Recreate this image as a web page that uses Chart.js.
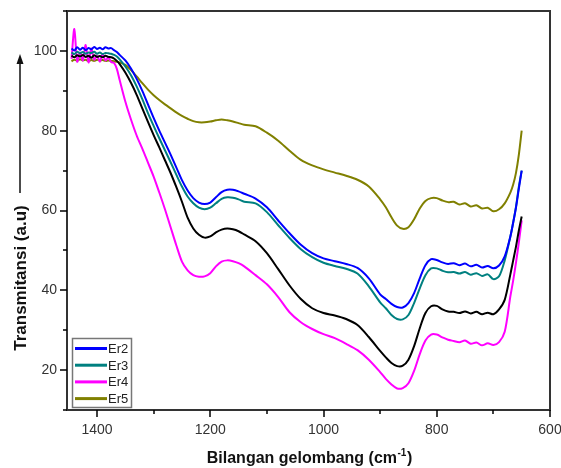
<!DOCTYPE html>
<html>
<head>
<meta charset="utf-8">
<script src="https://cdn.jsdelivr.net/npm/chart.js@4.4.1/dist/chart.umd.min.js"></script>
<style>
  html, body { margin: 0; padding: 0; background: #fff; }
</style>
</head>
<body>
<canvas id="myChart" width="561" height="468"></canvas>
<script>
// wavenumber grid (cm-1), shared by all spectra
let wavenumber = [
	1445, 1440, 1435, 1430, 1425, 1420, 1415, 1410, 1405, 1400, 1395, 1390, 1385, 1380, 1375, 1370, 1365,
	1360, 1350, 1340, 1330, 1320, 1310, 1300, 1290, 1280, 1270, 1260, 1250, 1240, 1230, 1220, 1210, 1200, 1190, 1180, 1170, 1160, 1150, 1140,
	1120, 1100, 1080, 1060, 1040, 1020, 1000, 980, 960, 940,
	920, 900,
	890, 880, 870, 860, 850, 840, 830, 820, 810, 800, 790, 780, 770,
	760, 750, 740, 730, 720, 710, 700, 690, 680,
	670, 665, 660, 655, 650,
]

let er1 = [
	98.8, 98.4, 98.9, 98.6, 99.0, 98.5, 98.8, 98.3, 98.9, 98.5, 98.7, 98.4, 98.8, 98.5, 98.4, 98.1, 97.5,
	96.7, 94.6, 92.0, 89.0, 85.6, 82.2, 78.9, 75.8, 72.6, 69.4, 65.9, 62.2, 58.2, 55.5, 53.9, 53.2, 53.5, 54.5, 55.2, 55.5, 55.3, 54.8, 54.0,
	52.3, 49.3, 45.3, 41.2, 37.8, 35.5, 34.3, 33.7, 32.8, 31.3,
	28.3, 24.8,
	23.2, 21.8, 21.0, 21.1, 22.6, 26.0, 30.5, 34.3, 36.0, 36.1, 35.2, 34.7, 34.6,
	34.3, 34.7, 34.2, 34.6, 34.0, 34.4, 34.0, 35.2, 37.6,
	44.0, 47.5, 51.0, 55.0, 58.5,
]
let er2 = [
	100.6, 100.1, 100.9, 100.3, 100.8, 100.2, 100.7, 100.4, 101.0, 100.5, 100.8, 100.4, 100.9, 100.6, 100.7, 100.2, 99.7,
	99.0, 97.6, 95.6, 93.0, 90.0, 86.6, 83.2, 80.0, 77.0, 74.0, 70.8, 67.6, 65.0, 63.1, 62.0, 61.6, 62.0, 63.3, 64.6, 65.2, 65.2, 64.8, 64.2,
	63.0, 60.8, 57.5, 54.3, 51.4, 49.3, 48.0, 47.3, 46.6, 45.6,
	43.0, 39.0,
	37.8, 36.6, 35.8, 35.7, 36.8, 39.3, 43.0, 46.3, 47.8, 47.6, 47.0, 46.6, 46.8,
	46.3, 46.7, 46.0, 46.4, 45.7, 46.1, 45.5, 46.2, 48.5,
	53.5, 57.0, 60.8, 65.5, 70.0,
]
let er3 = [
	99.6, 99.2, 99.8, 99.4, 99.7, 99.3, 99.6, 99.5, 99.8, 99.3, 99.6, 99.2, 99.5, 99.4, 99.3, 99.0, 98.6,
	97.9, 96.1, 93.9, 91.1, 87.9, 84.4, 81.2, 78.1, 75.1, 72.1, 69.0, 66.0, 63.5, 61.8, 60.7, 60.3, 60.7, 61.8, 62.9, 63.3, 63.2, 62.8, 62.2,
	61.8, 59.6, 56.3, 53.1, 50.3, 48.3, 46.9, 46.1, 45.4, 44.2,
	41.0, 37.0,
	35.5, 33.8, 32.8, 32.7, 33.8, 36.8, 40.5, 43.8, 45.5, 45.5, 44.9, 44.5, 44.6,
	44.2, 44.6, 43.9, 44.3, 43.6, 44.0, 42.8, 43.5, 47.5,
	53.5, 57.0, 61.0, 66.0, 70.0,
]
let er4 = [
	98.0, 105.5, 97.3, 99.6, 97.6, 101.5, 97.1, 100.6, 97.8, 98.8, 97.3, 99.2, 97.6, 98.4, 97.2, 97.0, 95.5,
	92.7, 87.3, 82.8, 78.8, 75.5, 72.0, 68.5, 64.5, 60.3, 55.8, 51.3, 47.2, 45.0, 43.8, 43.4, 43.5, 44.3, 46.0, 47.2, 47.5, 47.3, 46.8, 46.0,
	43.8, 41.5, 38.3, 34.5, 32.0, 30.3, 29.0, 28.0, 26.6, 25.0,
	22.6, 19.5,
	17.8, 16.4, 15.4, 15.5, 16.7, 19.8, 24.0, 27.4, 28.9, 28.9, 28.2, 27.6, 27.3,
	27.0, 27.4, 26.6, 26.9, 26.2, 26.7, 26.3, 27.0, 29.6,
	38.5, 42.5, 47.0, 52.0, 57.5,
]
let er5 = [
	97.4, 97.8, 97.5, 97.9, 97.6, 97.8, 97.4, 97.7, 97.5, 97.8, 97.6, 97.7, 97.5, 97.6, 97.5, 97.4, 97.3,
	97.1, 96.5, 95.2, 93.6, 91.9, 90.3, 88.9, 87.7, 86.6, 85.6, 84.6, 83.7, 83.0, 82.4, 82.1, 82.1, 82.3, 82.6, 82.8, 82.6, 82.3, 81.9, 81.5,
	81.1, 79.5, 77.5, 75.0, 72.7, 71.3, 70.3, 69.5, 68.7, 67.7,
	66.0, 62.8,
	60.8, 58.3, 56.2, 55.4, 55.8, 57.8, 60.5, 62.4, 63.1, 63.1, 62.5, 62.1, 62.2,
	61.5, 61.8, 61.0, 61.3, 60.5, 60.7, 59.8, 60.3, 61.8,
	64.5, 66.5, 69.5, 74.0, 80.0,
]

let xTicks = [1400, 1200, 1000, 800, 600]
let yTicks = [20, 40, 60, 80, 100]

let series = [
	{ label: 'Er1', values: er1, color: '#000000', legend: false },
	{ label: 'Er2', values: er2, color: '#0000ff', legend: true },
	{ label: 'Er3', values: er3, color: '#008080', legend: true },
	{ label: 'Er4', values: er4, color: '#ff00ff', legend: true },
	{ label: 'Er5', values: er5, color: '#808000', legend: true },
]

let labelFont = "'Liberation Sans', Arial, sans-serif"

let extras = {
	id: 'extras',
	afterDraw(chart) {
		let ctx = chart.ctx
		let a = chart.chartArea
		let xs = chart.scales.x
		let ys = chart.scales.y
		ctx.save()

		// frame
		ctx.strokeStyle = '#333'
		ctx.lineWidth = 2
		ctx.strokeRect(a.left, a.top, a.right - a.left, a.bottom - a.top)

		// tick marks, long on labelled ticks
		ctx.strokeStyle = '#000'
		ctx.lineWidth = 1.5
		xs.ticks.forEach((t) => {
			let px = Math.round(xs.getPixelForValue(t.value))
			let len = xTicks.includes(t.value) ? 7 : 4
			ctx.beginPath()
			ctx.moveTo(px, a.bottom)
			ctx.lineTo(px, a.bottom + len)
			ctx.stroke()
		})
		ys.ticks.forEach((t) => {
			let py = Math.round(ys.getPixelForValue(t.value))
			let len = yTicks.includes(t.value) ? 7 : 4
			ctx.beginPath()
			ctx.moveTo(a.left, py)
			ctx.lineTo(a.left - len, py)
			ctx.stroke()
		})

		// legend box
		let lx = 72.5, ly = 338.5
		ctx.strokeStyle = '#777'
		ctx.lineWidth = 1.5
		ctx.fillStyle = '#fff'
		ctx.fillRect(lx, ly, 59, 69)
		ctx.strokeRect(lx, ly, 59, 69)
		ctx.font = '13px ' + labelFont
		ctx.textBaseline = 'middle'
		ctx.textAlign = 'left'
		series.filter((s) => s.legend).forEach((s, i) => {
			let y = 348.5 + i * 16.7
			ctx.strokeStyle = s.color
			ctx.lineWidth = 3
			ctx.beginPath()
			ctx.moveTo(75, y)
			ctx.lineTo(107, y)
			ctx.stroke()
			ctx.fillStyle = '#222'
			ctx.fillText(s.label, 108, y + 1)
		})

		// y title with arrow
		ctx.fillStyle = '#111'
		ctx.strokeStyle = '#111'
		ctx.lineWidth = 1.5
		ctx.beginPath()
		ctx.moveTo(20, 193)
		ctx.lineTo(20, 62)
		ctx.stroke()
		ctx.beginPath()
		ctx.moveTo(20, 54)
		ctx.lineTo(16.5, 64)
		ctx.lineTo(23.5, 64)
		ctx.closePath()
		ctx.fill()

		ctx.save()
		ctx.translate(21, 278)
		ctx.rotate(-Math.PI / 2)
		ctx.font = 'bold 17px ' + labelFont
		ctx.textAlign = 'center'
		ctx.textBaseline = 'middle'
		ctx.fillText('Transmitansi (a.u)', 0, 0)
		ctx.restore()

		// x title with superscript
		let main = 'Bilangan gelombang (cm'
		let sup = '-1'
		let close = ')'
		ctx.textAlign = 'left'
		ctx.textBaseline = 'alphabetic'
		ctx.font = 'bold 16px ' + labelFont
		let w1 = ctx.measureText(main).width
		let w3 = ctx.measureText(close).width
		ctx.font = 'bold 10px ' + labelFont
		let w2 = ctx.measureText(sup).width
		let x0 = 309 - (w1 + w2 + w3) / 2
		let base = 463
		ctx.font = 'bold 16px ' + labelFont
		ctx.fillText(main, x0, base)
		ctx.font = 'bold 10px ' + labelFont
		ctx.fillText(sup, x0 + w1 + 0.5, base - 7)
		ctx.font = 'bold 16px ' + labelFont
		ctx.fillText(close, x0 + w1 + w2 + 1, base)

		ctx.restore()
	},
}

let ctx = document.getElementById('myChart').getContext('2d')
let myChart = new Chart(ctx, {
	type: 'line',
	data: {
		datasets: series.map((s) => ({
			label: s.label,
			data: wavenumber.map((w, i) => ({ x: w, y: s.values[i] })),
			borderColor: s.color,
			borderWidth: 2,
			pointRadius: 0,
			tension: 0.3,
			fill: false,
		})),
	},
	options: {
		responsive: false,
		animation: false,
		events: [],
		layout: { padding: { top: 11, right: 11, left: 0, bottom: 0 } },
		plugins: {
			legend: { display: false },
			tooltip: { enabled: false },
		},
		scales: {
			x: {
				type: 'linear',
				reverse: true,
				min: 600,
				max: 1453,
				afterFit: (scale) => {
					scale.height = 58
					scale.paddingLeft = 0
					scale.paddingRight = 0
				},
				grid: { display: true, drawOnChartArea: false, drawTicks: true, tickLength: 7, color: 'rgba(0,0,0,0)' },
				border: { display: false },
				ticks: {
					stepSize: 100,
					includeBounds: false,
					maxRotation: 0,
					autoSkip: false,
					padding: 5,
					color: '#333',
					font: { family: labelFont, size: 14 },
					callback: (v) => (xTicks.includes(v) ? String(v) : ''),
				},
			},
			y: {
				min: 10,
				max: 110,
				afterFit: (scale) => {
					scale.width = 67
					scale.paddingTop = 0
					scale.paddingBottom = 0
				},
				grid: { display: true, drawOnChartArea: false, drawTicks: true, tickLength: 7, color: 'rgba(0,0,0,0)' },
				border: { display: false },
				ticks: {
					stepSize: 10,
					includeBounds: false,
					autoSkip: false,
					padding: 3,
					color: '#333',
					font: { family: labelFont, size: 14 },
					callback: (v) => (yTicks.includes(v) ? String(v) : ''),
				},
			},
		},
	},
	plugins: [extras],
})
</script>
</body>
</html>
